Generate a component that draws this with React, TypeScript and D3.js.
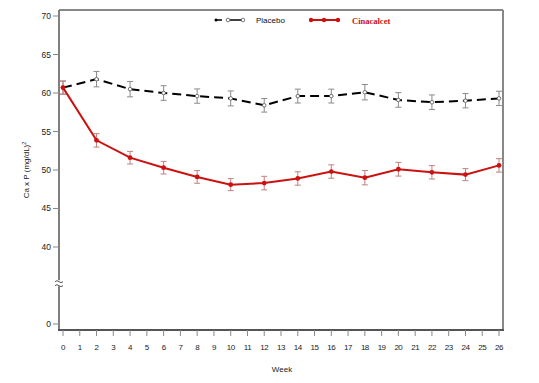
import React from "react";
import * as d3 from "d3";

const weeks = [0, 2, 4, 6, 8, 10, 12, 14, 16, 18, 20, 22, 24, 26];
const placebo = [60.7, 61.8, 60.5, 60.0, 59.6, 59.3, 58.4, 59.6, 59.6, 60.1, 59.1, 58.8, 59.0, 59.3];
const placeboErr = [0.85, 1.0, 1.0, 0.95, 0.93, 0.97, 0.88, 0.9, 0.9, 1.0, 0.95, 0.95, 0.93, 0.93];
const cinacalcet = [60.7, 53.85, 51.6, 50.3, 49.1, 48.1, 48.3, 48.9, 49.8, 49.0, 50.1, 49.7, 49.4, 50.6];
const cinacalcetErr = [0.85, 0.87, 0.82, 0.82, 0.82, 0.78, 0.88, 0.87, 0.87, 0.93, 0.89, 0.87, 0.78, 0.87];
const xTicks = d3.range(0, 27);
const yTickValues = [30, 40, 45, 50, 55, 60, 65, 70];
const yTickLabels = ["0", "40", "45", "50", "55", "60", "65", "70"];
const breakValue = 35.3;

export default function App() {
  const W = 539, H = 383;
  const left = 59, right = 503, top = 10, bottom = 330;
  const x = d3.scaleLinear().domain([0, 26]).range([63, 499]);
  const y = d3.scaleLinear().domain([29.22, 70.78]).range([bottom, top]);
  const line = d3.line<number>().x((_, i) => x(weeks[i])).y((d) => y(d));
  const sans = "'Liberation Sans', Arial, sans-serif";
  const capW = 3;
  const by = y(breakValue);

  const errBars = (vals: number[], errs: number[], color: string) =>
    vals.map((v, i) => {
      const cx = x(weeks[i]);
      const y1 = y(v + errs[i]);
      const y2 = y(v - errs[i]);
      return (
        <g key={i} stroke={color} strokeWidth={1}>
          <line x1={cx} x2={cx} y1={y1} y2={y2} />
          <line x1={cx - capW} x2={cx + capW} y1={y1} y2={y1} />
          <line x1={cx - capW} x2={cx + capW} y1={y2} y2={y2} />
        </g>
      );
    });

  return (
    <svg width={W} height={H} style={{ position: "absolute", left: 0, top: 0, background: "#fff" }}>
      <rect width={W} height={H} fill="#fff" />
      {/* frame */}
      <line x1={left} x2={right} y1={top} y2={top} stroke="#888" strokeWidth={2} />
      <line x1={right} x2={right} y1={top} y2={bottom} stroke="#888" strokeWidth={2} />
      <line x1={left} x2={left} y1={top} y2={bottom + 1} stroke="#808080" strokeWidth={2} />
      <line x1={left - 1} x2={right + 1} y1={bottom} y2={bottom} stroke="#555" strokeWidth={2} />
      {/* axis break */}
      <rect x={left - 3} y={by - 3} width={6} height={6} fill="#fff" />
      <path d={`M${left - 4},${by - 1.5} q2,-2 4,0 t4,0 M${left - 4},${by + 2.5} q2,-2 4,0 t4,0`} fill="none" stroke="#555" strokeWidth={1} />
      {/* y ticks */}
      {yTickValues.map((v, i) => (
        <g key={v}>
          <line x1={53} x2={left} y1={y(v)} y2={y(v)} stroke="#888" strokeWidth={1} />
          <text x={51} y={y(v) + 3} textAnchor="end" fontSize={8.5} fontFamily={sans} fill="#222">{yTickLabels[i]}</text>
        </g>
      ))}
      {/* x ticks */}
      {xTicks.map((t) => (
        <g key={t}>
          <line x1={x(t)} x2={x(t)} y1={bottom} y2={bottom + 6} stroke="#888" strokeWidth={1} />
          <text x={x(t)} y={350} textAnchor="middle" fontSize={8} fontFamily={sans} fill="#222" letterSpacing={-0.5}>{t}</text>
        </g>
      ))}
      <text x={282} y={372} textAnchor="middle" fontSize={8} fontFamily={sans} fill="#222">Week</text>
      <text transform={`translate(29,170) rotate(-90)`} textAnchor="middle" fontSize={8} fontFamily={sans} fill="#222">
        Ca x P (mg/dL)<tspan dy={-3} fontSize={5.5}>2</tspan>
      </text>
      {/* error bars */}
      {errBars(placebo, placeboErr, "#8a8a8a")}
      {errBars(cinacalcet, cinacalcetErr, "#c08080")}
      {/* lines */}
      <path d={line(placebo) || ""} fill="none" stroke="#000" strokeWidth={2} strokeDasharray="9,5" />
      <path d={line(cinacalcet) || ""} fill="none" stroke="#cc1111" strokeWidth={2} />
      {placebo.map((v, i) => (
        <circle key={i} cx={x(weeks[i])} cy={y(v)} r={1.8} fill="#fff" stroke="#555" strokeWidth={0.8} />
      ))}
      {cinacalcet.map((v, i) => (
        <circle key={i} cx={x(weeks[i])} cy={y(v)} r={2.4} fill="#cc1111" />
      ))}
      {/* legend */}
      <g>
        <line x1={215} x2={222} y1={20} y2={20} stroke="#000" strokeWidth={1.5} />
        <circle cx={216} cy={20} r={1.5} fill="#000" />
        <line x1={230} x2={242} y1={20} y2={20} stroke="#000" strokeWidth={1.5} />
        <circle cx={228} cy={20} r={1.8} fill="#fff" stroke="#555" strokeWidth={0.8} />
        <circle cx={243} cy={20} r={1.8} fill="#fff" stroke="#555" strokeWidth={0.8} />
        <text x={256} y={23} fontSize={8} fontFamily={sans} fill="#111">Placebo</text>
        <line x1={309} x2={339} y1={20} y2={20} stroke="#cc1111" strokeWidth={2} />
        <circle cx={311} cy={20} r={2.2} fill="#cc1111" />
        <circle cx={324} cy={20} r={2.2} fill="#cc1111" />
        <circle cx={338} cy={20} r={2.2} fill="#cc1111" />
        <text x={352} y={23.5} fontSize={8.5} fontWeight="bold" fontFamily="'Liberation Serif', 'Times New Roman', serif" fill="#cc1111">Cinacalcet</text>
      </g>
    </svg>
  );
}
